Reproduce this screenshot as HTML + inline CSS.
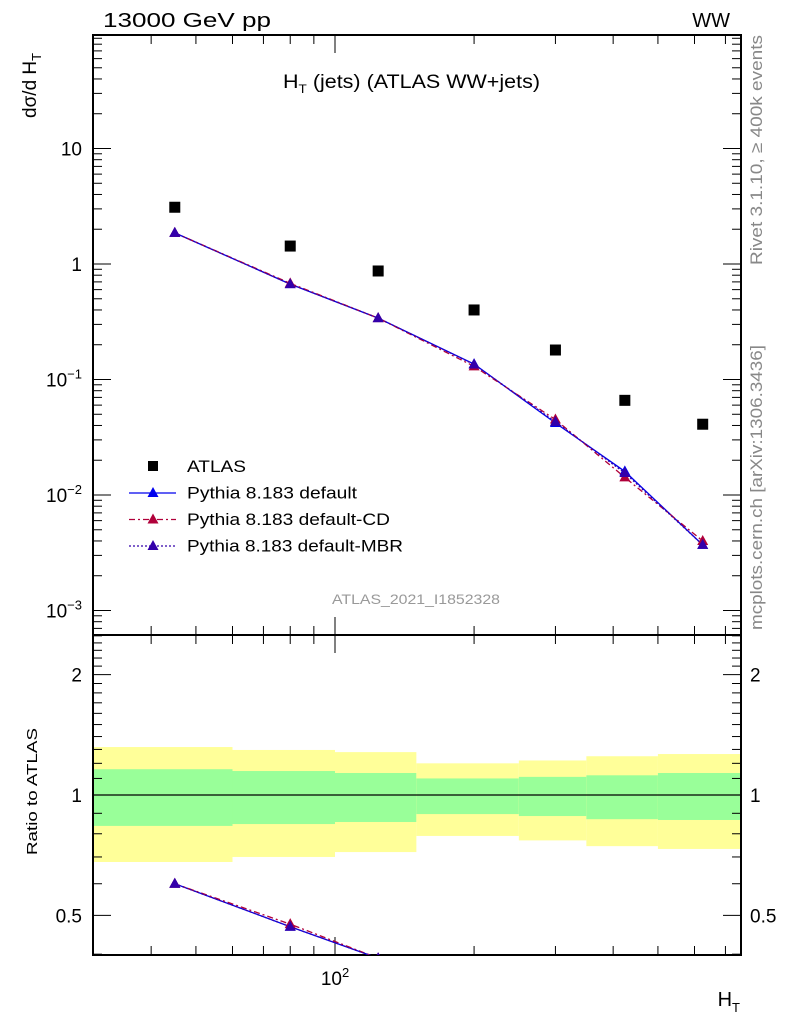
<!DOCTYPE html>
<html><head><meta charset="utf-8">
<style>
html,body{margin:0;background:#fff;overflow:hidden;width:786px;height:1024px;}
svg{display:block;font-family:"Liberation Sans",sans-serif;}
</style></head>
<body>
<svg id="c" width="786" height="1024" viewBox="0 0 786 1024">
<text x="103" y="27" font-size="20" textLength="168" lengthAdjust="spacingAndGlyphs">13000 GeV pp</text>
<text x="730" y="27" font-size="20" text-anchor="end">WW</text>
<text x="283" y="88" font-size="19" textLength="257" lengthAdjust="spacingAndGlyphs">H<tspan font-size="12" dy="5">T</tspan><tspan dy="-5"> (jets) (ATLAS WW+jets)</tspan></text>
<text transform="translate(36,118) rotate(-90)" font-size="19">dσ/d H<tspan font-size="13" dy="5">T</tspan></text>
<text transform="translate(37,855) rotate(-90)" font-size="15" textLength="127" lengthAdjust="spacingAndGlyphs">Ratio to ATLAS</text>
<text x="740" y="1006" font-size="20" text-anchor="end">H<tspan font-size="13" dy="6">T</tspan></text>
<text transform="translate(762,265) rotate(-90)" font-size="17" fill="#888" textLength="230" lengthAdjust="spacingAndGlyphs">Rivet 3.1.10, ≥ 400k events</text>
<text transform="translate(762,630) rotate(-90)" font-size="17" fill="#888" textLength="285" lengthAdjust="spacingAndGlyphs">mcplots.cern.ch [arXiv:1306.3436]</text>
<text x="416" y="604" font-size="14" fill="#999" text-anchor="middle" textLength="168" lengthAdjust="spacingAndGlyphs">ATLAS_2021_I1852328</text>
<g id="g"></g>
</svg>
<script>
const binEdges=[30,60,100,150,250,350,500,756];
const xCenters=[45,80,124,200,300,424,625];
const atlasVals=[3.1,1.43,0.87,0.40,0.18,0.066,0.041];
const defaultVals=[1.86,0.67,0.34,0.136,0.042,0.016,0.0037];
const cdVals=[1.86,0.68,0.34,0.13,0.045,0.0142,0.004];
const mbrVals=[1.86,0.67,0.34,0.135,0.043,0.0155,0.0037];
const yellowHi=[1.318,1.296,1.28,1.2,1.22,1.25,1.266];
const yellowLo=[0.68,0.70,0.72,0.79,0.77,0.745,0.733];
const greenHi=[1.16,1.148,1.135,1.10,1.11,1.12,1.135];
const greenLo=[0.837,0.846,0.856,0.896,0.886,0.87,0.866];
const mainTicks=[["10^-3",0.001],["10^-2",0.01],["10^-1",0.1],["1",1],["10",10]];
const ratioTicks=[0.5,1,2];

const NS="http://www.w3.org/2000/svg";
const g=document.getElementById('g');
const L=93,R=741,T=35,M=635,B=955;
const X=v=>335+462*(Math.log10(v)-2);
const Y=v=>264-115.5*Math.log10(v);
const RY=v=>795-400*Math.log10(v);
function el(t,a,p){const e=document.createElementNS(NS,t);for(const k in a)e.setAttribute(k,a[k]);(p||g).appendChild(e);return e;}

const bands=el('g',{});


for(let i=0;i<xCenters.length;i++){
  const x0=Math.max(L,X(binEdges[i])),x1=Math.min(R,X(binEdges[i+1]));
  const y=el('rect',{x:x0,y:RY(yellowHi[i]),width:x1-x0,height:RY(yellowLo[i])-RY(yellowHi[i]),fill:'#ffff99'},bands);
  
  
  const gr=el('rect',{x:x0,y:RY(greenHi[i]),width:x1-x0,height:RY(greenLo[i])-RY(greenHi[i]),fill:'#99ff99'},bands);
  
  
}
const one=el('line',{x1:L,x2:R,y1:RY(1),y2:RY(1),stroke:'#000','stroke-width':1.2});



for(const [y0,y1,n] of [[T,M,'main-frame'],[M,B,'ratio-frame']]){
  const f=el('rect',{x:L,y:y0,width:R-L,height:y1-y0,fill:'none',stroke:'#000','stroke-width':2});
  
  
}
const xt=[];for(let d=10;d<=100;d*=10)for(let k=1;k<10;k++)xt.push(k*d);
for(const v of xt){const x=X(v);if(x<L||x>R)continue;const big=(v===100);
  for(const [y0,y1] of [[T,M],[M,B]]){
    el('line',{x1:x,x2:x,y1:y1,y2:y1-(big?18:9),stroke:'#000'});
    el('line',{x1:x,x2:x,y1:y0,y2:y0+(big?18:9),stroke:'#000'});
  }}
const xl=el('text',{x:X(100),y:985,'font-size':19,'text-anchor':'middle'});
xl.innerHTML='10<tspan font-size="13" dy="-8">2</tspan>';


for(let e=-4;e<=1;e++)for(let k=1;k<10;k++){const v=k*Math.pow(10,e);const y=Y(v);if(y<T||y>M)continue;
  const w=k===1?18:9;el('line',{x1:L,x2:L+w,y1:y,y2:y,stroke:'#000'});el('line',{x1:R,x2:R-w,y1:y,y2:y,stroke:'#000'});}
for(const [s,v] of mainTicks){const t=el('text',{x:82,y:Y(v)+7,'font-size':19,'text-anchor':'end'});
  if(s.startsWith('10^')){t.innerHTML='10<tspan font-size="13" dy="-8">'+s.slice(3).replace('-','−')+'</tspan>';}else t.textContent=s;
  
  }
for(let v=0.4;v<=2.5;v=Math.round((v+0.1)*10)/10){const y=RY(v);if(y<M||y>B)continue;
  const w=(v===0.5||v===1||v===2)?18:9;el('line',{x1:L,x2:L+w,y1:y,y2:y,stroke:'#000'});el('line',{x1:R,x2:R-w,y1:y,y2:y,stroke:'#000'});}
for(const v of ratioTicks){for(const [x,a] of [[82,'end'],[750,'start']]){
  const t=el('text',{x:x,y:RY(v)+7,'font-size':19,'text-anchor':a});t.textContent=String(v);
  
  }}

const defs=el('defs',{});
const cp=el('clipPath',{id:'rc'},defs);el('rect',{x:L,y:M,width:R-L,height:B-M},cp);
const series=[[defaultVals,'#0000ee','none','default'],[cdVals,'#b0003a','6,3,2,3','cd'],[mbrVals,'#3300aa','2,2','mbr']];
function tri(x,y,c,p){return el('path',{d:`M${x},${y-6}L${x+5.5},${y+4}L${x-5.5},${y+4}Z`,fill:c},p);}
for(const [vals,c,dash,n] of series){
  const gm=el('g',{});
  
  
  el('polyline',{points:xCenters.map((x,i)=>X(x)+','+Y(vals[i])).join(' '),fill:'none',stroke:c,'stroke-width':1.3,'stroke-dasharray':dash},gm);
  xCenters.forEach((x,i)=>tri(X(x),Y(vals[i]),c,gm));
  const gr=el('g',{'clip-path':'url(#rc)'});
  
  
  el('polyline',{points:xCenters.map((x,i)=>X(x)+','+RY(vals[i]/atlasVals[i])).join(' '),fill:'none',stroke:c,'stroke-width':1.3,'stroke-dasharray':dash},gr);
  xCenters.forEach((x,i)=>tri(X(x),RY(vals[i]/atlasVals[i]),c,gr));
}
const ga=el('g',{});


xCenters.forEach((x,i)=>el('rect',{x:X(x)-5.5,y:Y(atlasVals[i])-5.5,width:11,height:11,fill:'#000'},ga));

const lg=el('g',{});


el('rect',{x:148,y:461,width:10,height:10,fill:'#000'},lg);
const labels=['ATLAS','Pythia 8.183 default','Pythia 8.183 default-CD','Pythia 8.183 default-MBR'];
const lens=[59,170,203,216];
labels.forEach((s,i)=>{const t=el('text',{x:187,y:472+i*26.5,'font-size':17,textLength:lens[i],lengthAdjust:'spacingAndGlyphs'},lg);t.textContent=s;
  
  });
series.forEach(([v,c,dash],i)=>{const y=493+i*26.5;el('line',{x1:129,x2:176,y1:y,y2:y,stroke:c,'stroke-width':1.3,'stroke-dasharray':dash},lg);tri(153,y,c,lg);});
</script>
</body></html>
